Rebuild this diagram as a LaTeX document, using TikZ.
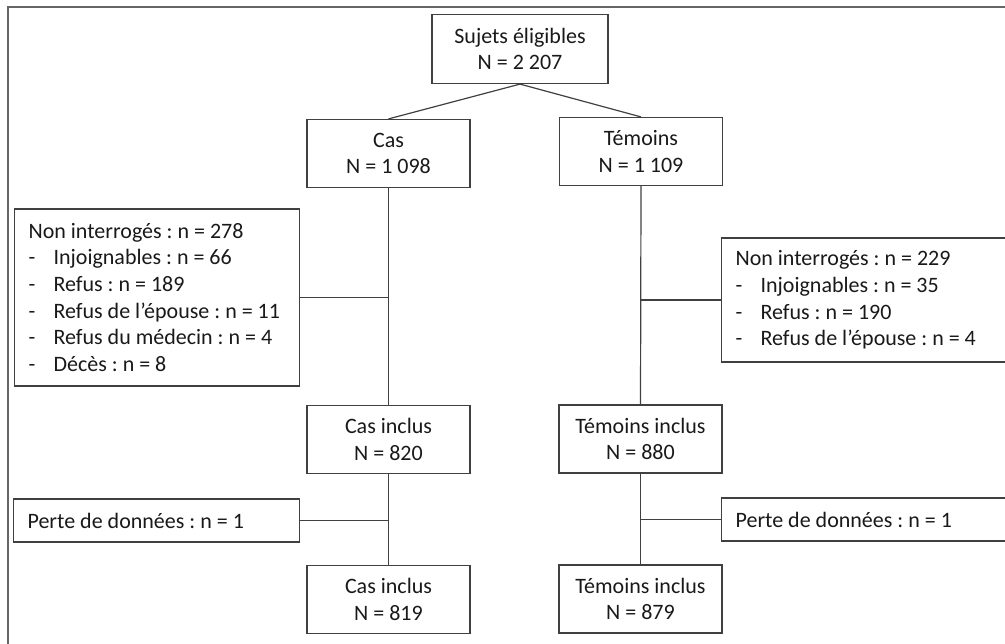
\documentclass[tikz,border=0pt]{standalone}
\usepackage{fontspec}
\setmainfont{Carlito}
\frenchspacing
\newcommand{\tiret}{\makebox[18.75pt][l]{-}}
\tikzset{
  box/.style={draw=black!75, line width=0.9pt, align=center, inner sep=0pt,
    minimum width=122.25pt, minimum height=51pt, text=black!90,
    font=\fontsize{16.5}{20}\selectfont},
  sidebox/.style={draw=black!75, line width=0.9pt, align=left, anchor=west,
    inner xsep=10.5pt, inner ysep=0pt, text=black!90,
    font=\fontsize{16.5}{20}\selectfont,
    execute at begin node={\spaceskip=0pt\xspaceskip=0pt}},
  link/.style={draw=black!75, line width=0.9pt},
}
\begin{document}
\begin{tikzpicture}[x=0.75pt, y=-0.75pt]
    \useasboundingbox (0,0) rectangle (1005,643);
    \clip (0,0) rectangle (1005,643);

    % Cadre
    \draw[black!60, line width=1.5pt] (8,660) -- (8,7) -- (1020,7);

    % Sujets
    \node[box, minimum width=132pt, minimum height=51.75pt] (sujets) at (520,49) {Sujets éligibles\\N = 2 207};
    \node[box] (cas) at (388.5,153.5) {Cas\\N = 1 098};
    \node[box] (temoins) at (641,151.5) {Témoins\\N = 1 109};

    % Non interrogés
    \node[sidebox, text width=192.75pt, minimum height=132.75pt] (nonCas) at (14,297.5)
      {Non interrogés : n = 278\\
       \tiret Injoignables : n = 66\\
       \tiret Refus : n = 189\\
       \tiret Refus de l’épouse : n = 11\\
       \tiret Refus du médecin : n = 4\\
       \tiret Décès : n = 8};
    \node[sidebox, text width=197.25pt, minimum height=93pt] (nonTem) at (721,300)
      {Non interrogés : n = 229\\
       \tiret Injoignables : n = 35\\
       \tiret Refus : n = 190\\
       \tiret Refus de l’épouse : n = 4};

    % Inclus
    \node[box] (casInclus) at (388.5,439.5) {Cas inclus\\N = 820};
    \node[box] (temInclus) at (640.5,439) {Témoins inclus\\N = 880};

    % Perte de données
    \node[sidebox, text width=193.5pt, minimum height=32.25pt] (perteCas) at (13,520.5) {Perte de données : n = 1};
    \node[sidebox, text width=197.25pt, minimum height=32.25pt] (perteTem) at (721,519.5) {Perte de données : n = 1};

    % Inclus final
    \node[box] (casFinal) at (388.5,599.5) {Cas inclus\\N = 819};
    \node[box] (temFinal) at (640.5,599) {Témoins inclus\\N = 879};

    % Liens
    \draw[link] (cas.north) -- (sujets.south) -- (temoins.north);
    \draw[link] (cas.south) -- (casInclus.north);
    \draw[link] (casInclus.south) -- (casFinal.north);
    \draw[link] (temoins.south) -- (temInclus.north);
    \draw[link] (temInclus.south) -- (temFinal.north);
    \draw[link] (nonCas.east) -- (nonCas.east -| cas.south);
    \draw[link] (nonTem.west) -- (nonTem.west -| temoins.south);
    \draw[link] (perteCas.east) -- (perteCas.east -| casInclus.south);
    \draw[link] (perteTem.west) -- (perteTem.west -| temInclus.south);

  \end{tikzpicture}
\end{document}
